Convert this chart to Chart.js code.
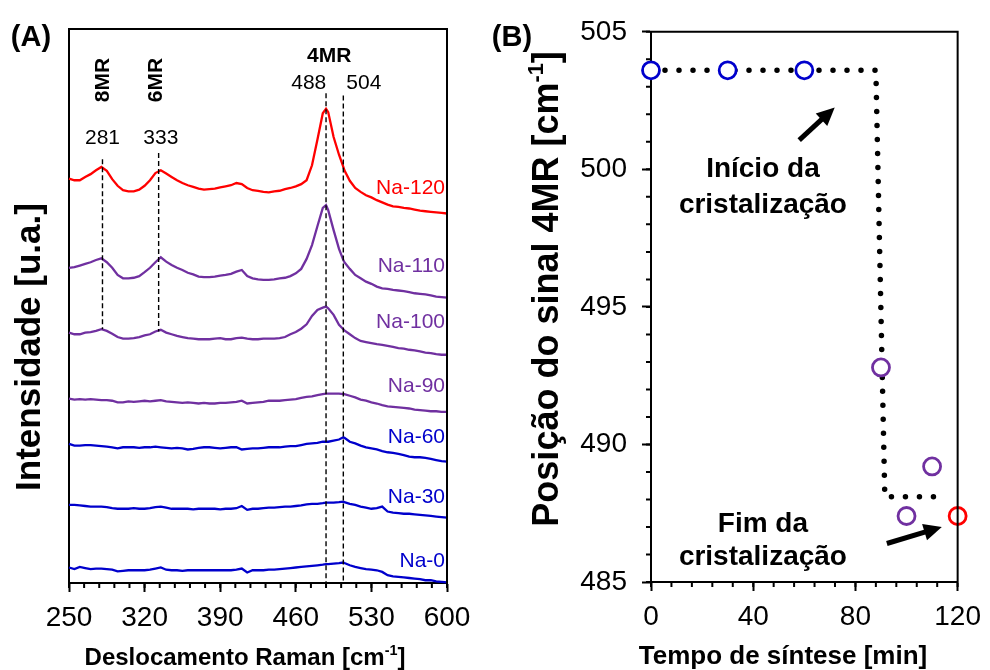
<!DOCTYPE html>
<html>
<head>
<meta charset="utf-8">
<script src="https://cdn.jsdelivr.net/npm/chart.js@4.4.1/dist/chart.umd.min.js"></script>
<style>
  body { margin: 0; background: #fff; }
  #quadro { position: relative; width: 990px; height: 670px; }
  canvas { position: absolute; top: 0; }
  #graficoA { left: 0; }
  #graficoB { left: 490px; }
</style>
</head>
<body>
<div id="quadro">
  <canvas id="graficoA" width="490" height="670" style="width:490px;height:670px"></canvas>
  <canvas id="graficoB" width="500" height="670" style="width:500px;height:670px"></canvas>
</div>
<script>
// deslocamento Raman (cm-1) comum a todos os espectros
var deslocamento = [250,255,260,265,270,275,280,285,290,295,300,305,310,315,320,325,330,335,340,345,
  350,355,360,365,370,375,380,385,390,395,400,405,410,415,420,425,430,435,440,445,
  450,455,460,465,470,475,480,485,488,490,495,500,504,505,510,515,520,525,530,535,
  540,545,550,555,560,565,570,575,580,585,590,595,600];

// intensidades (u.a., ja com o deslocamento vertical de cada amostra)
var na0 = [2.8,2.5,2.9,2.7,2.5,2.6,2.6,2.5,2.4,2.1, 2.2,2.3,2.3,2.3,2.3,2.4,2.6,2.8,2.4,2.3,
  2.3,2.2,2.3,2.3,2.3,2.3,2.3,2.3,2.3,2.3, 2.3,2.4,2.6,1.9,2.3,2.3,2.3,2.4,2.4,2.5,
  2.6,2.7,2.8,2.9,3.0,3.1,3.2,3.3, 3.4, 3.4,3.5,3.6, 3.7,
  3.6,3.2,2.9,2.7,2.5,2.4,2.3,2.0,1.4,1.2,1.1,1.0,0.9,0.8,0.7,0.5,0.5,0.3,0.2,0.1];
var na30 = [14.1,14.1,14.0,13.9,13.8,13.8,13.8,13.7,13.5,13.4, 13.4,13.4,13.5,13.4,13.4,13.5,13.7,13.8,13.6,13.4,
  13.4,13.4,13.4,13.3,13.4,13.4,13.4,13.4,13.3,13.4, 13.4,13.5,13.9,13.2,13.4,13.4,13.5,13.6,13.6,13.7,
  13.8,13.8,13.9,14.0,14.2,14.3,14.3,14.4, 14.5, 14.5,14.5,14.6, 14.7,
  14.6,14.3,14.1,13.8,13.6,13.4,13.5,13.8,12.9,12.7,12.6,12.5,12.5,12.4,12.3,12.2,12.1,12.0,11.9,11.8];
var na60 = [25.1,24.8,24.8,24.9,24.9,24.8,24.7,24.6,24.5,24.3, 24.5,24.5,24.5,24.4,24.5,24.5,24.6,24.5,24.4,24.3,
  24.4,24.3,24.1,24.2,24.4,24.5,24.5,24.4,24.3,24.4, 24.5,24.5,24.1,24.2,24.3,24.3,24.4,24.5,24.5,24.5,
  24.6,24.7,24.7,24.9,25.1,25.2,25.3,25.5, 25.5, 25.5,25.7,25.9, 26.3,
  26.2,25.5,25.2,24.8,24.5,24.3,24.1,23.8,23.6,23.5,23.3,23.1,22.8,22.7,22.7,22.6,22.4,22.2,22.0,21.9];
var na90 = [33.3,33.1,33.2,33.1,33.2,33.1,33.0,33.0,32.9,32.6, 32.6,32.8,32.7,32.8,32.9,32.8,32.9,33.0,32.8,32.7,
  32.6,32.5,32.6,32.5,32.4,32.5,32.4,32.4,32.5,32.5, 32.6,32.7,32.9,32.4,32.5,32.6,32.7,32.9,32.9,32.9,
  33.0,33.1,33.2,33.4,33.6,33.7,33.9,34.1, 34.2, 34.2,34.2,34.2, 34.1,
  34.1,33.8,33.5,33.1,32.9,32.6,32.4,32.1,31.9,31.8,31.7,31.6,31.5,31.3,31.2,31.1,31.0,31.0,30.9,30.9];
var na100 = [45.2,44.9,44.9,45.2,45.3,45.5,45.8,45.5,45.0,44.4, 44.1,44.1,44.2,44.4,44.7,44.9,45.4,45.7,45.2,44.9,
  44.6,44.4,44.2,44.1,44.0,44.0,44.0,44.1,44.2,44.0, 44.0,44.2,44.3,44.1,44.0,44.0,44.1,44.1,44.1,44.2,
  44.4,44.9,45.3,45.9,46.7,48.2,49.3,49.7, 49.9, 49.6,48.4,46.6, 45.8,
  45.6,44.9,44.2,43.7,43.5,43.3,43.1,43.0,42.8,42.6,42.4,42.3,42.1,42.0,41.8,41.6,41.5,41.3,41.2,41.2];
var na110 = [56.9,57.0,57.3,57.6,57.9,58.3,58.6,57.9,56.9,55.6, 55.0,55.0,55.1,55.4,56.1,56.9,57.9,58.8,58.0,57.4,
  56.9,56.5,56.0,55.7,55.3,55.2,55.2,55.3,55.5,55.6, 55.8,56.2,56.5,55.4,55.0,54.8,54.7,54.7,54.8,55.0,
  55.1,55.4,55.9,56.7,58.5,61.0,64.4,67.7, 68.2, 67.3,63.7,60.3, 58.3,
  57.9,56.7,55.6,55.0,54.4,54.0,53.5,53.2,53.1,52.9,52.8,52.7,52.5,52.3,52.2,52.1,51.9,51.7,51.6,51.5];
var na120 = [73.0,72.7,72.7,73.3,73.8,74.5,75.1,74.4,72.9,71.7, 70.9,70.7,70.7,71.0,71.7,72.7,74.0,74.5,73.9,73.3,
  72.7,72.2,71.8,71.5,71.2,71.0,71.1,71.2,71.4,71.6, 71.8,72.2,72.0,71.3,70.9,70.8,70.6,70.5,70.7,70.8,
  71.1,71.3,71.6,72.0,72.7,75.4,80.0,84.8, 85.6, 85.0,80.5,77.3, 75.1,
  74.5,72.6,71.3,70.6,70.0,69.6,69.1,68.7,68.3,68.0,67.9,67.7,67.6,67.4,67.2,67.1,67.0,66.9,66.8,66.7];

var amostras = ['Na-0', 'Na-30', 'Na-60', 'Na-90', 'Na-100', 'Na-110', 'Na-120'];

// linhas tracejadas das bandas (8MR, 6MR e 4MR)
var picos = [281, 333, 488, 504];
var picoTopo = [76.5, 77.6, 88.4, 88.0];
var picoBase = [45.8, 45.4, 0, 0];

var ticksRaman = [250, 320, 390, 460, 530, 600];

// posicao do sinal 4MR ao longo da sintese
var tempo = [0, 30, 60, 90, 100, 110, 120];
var posicao4MR = [503.6, 503.6, 503.6, 492.8, 487.4, 489.2, 487.4];
var guiaTempo = [0, 88, 91.5, 116];
var guiaPosicao = [503.6, 503.6, 488.1, 488.1];

var ticksTempo = [0, 40, 80, 120];
var ticksPosicao = [485, 490, 495, 500, 505];

var azul = '#0000cc', roxo = '#7030a0', vermelho = '#ff0000';
var FONTE = '"Liberation Sans", Arial, sans-serif';

function pares(xs, ys) {
    return xs.map(function (x, i) { return {x: x, y: ys[i]}; });
}

// texto com partes sobrescritas (prefixo ^)
function escreve(ctx, partes, x, y, tam, peso, cor, alinh, ang) {
    ctx.save();
    ctx.translate(x, y);
    if (ang) ctx.rotate(ang);
    ctx.fillStyle = cor;
    ctx.textBaseline = 'middle';
    ctx.textAlign = 'left';
    var fonte = function (s) { return peso + ' ' + s + 'px ' + FONTE; };
    var larg = [], total = 0;
    partes.forEach(function (p) {
        var sup = p.charAt(0) === '^';
        ctx.font = fonte(sup ? tam * 0.6 : tam);
        var w = ctx.measureText(sup ? p.slice(1) : p).width;
        larg.push(w); total += w;
    });
    var x0 = alinh === 'center' ? -total / 2 : (alinh === 'right' ? -total : 0);
    partes.forEach(function (p, i) {
        var sup = p.charAt(0) === '^';
        ctx.font = fonte(sup ? tam * 0.6 : tam);
        ctx.fillText(sup ? p.slice(1) : p, x0, sup ? -tam * 0.3 : 0);
        x0 += larg[i];
    });
    ctx.restore();
}

function seta(ctx, x1, y1, x2, y2) {
    var ang = Math.atan2(y2 - y1, x2 - x1), cab = 18;
    ctx.save();
    ctx.strokeStyle = '#000'; ctx.fillStyle = '#000'; ctx.lineWidth = 5;
    ctx.beginPath();
    ctx.moveTo(x1, y1);
    ctx.lineTo(x2 - Math.cos(ang) * cab * 0.8, y2 - Math.sin(ang) * cab * 0.8);
    ctx.stroke();
    ctx.translate(x2, y2); ctx.rotate(ang);
    ctx.beginPath();
    ctx.moveTo(0, 0); ctx.lineTo(-cab, -8.5); ctx.lineTo(-cab, 8.5); ctx.closePath();
    ctx.fill();
    ctx.restore();
}

function moldura(ctx, a) {
    ctx.save();
    ctx.strokeStyle = '#000'; ctx.lineWidth = 2;
    ctx.beginPath();
    ctx.moveTo(a.left, a.top); ctx.lineTo(a.right, a.top); ctx.lineTo(a.right, a.bottom);
    ctx.stroke();
    ctx.restore();
}

function ticksMenores(ctx, escala, ini, fim, passo, horizontal, pos) {
    ctx.save();
    ctx.strokeStyle = '#000'; ctx.lineWidth = 2;
    ctx.beginPath();
    for (var v = ini; v <= fim + 1e-6; v += passo) {
        var p = escala.getPixelForValue(v);
        if (horizontal) { ctx.moveTo(p, pos); ctx.lineTo(p, pos + 5); }
        else { ctx.moveTo(pos, p); ctx.lineTo(pos - 5, p); }
    }
    ctx.stroke();
    ctx.restore();
}

// ---------- (A) espectros Raman ----------
var anotacoesA = {
    id: 'anotacoesA',
    afterDraw: function (chart) {
        var ctx = chart.ctx, a = chart.chartArea, sx = chart.scales.x, sy = chart.scales.y;
        moldura(ctx, a);
        ticksMenores(ctx, sx, 250, 600, 14, true, a.bottom);

        escreve(ctx, ['(A)'], 31, 38, 29, 'bold', '#000', 'center');
        escreve(ctx, ['8MR'], sx.getPixelForValue(281.5), sy.getPixelForValue(90.8), 21, 'bold', '#000', 'center', -Math.PI / 2);
        escreve(ctx, ['6MR'], sx.getPixelForValue(331), sy.getPixelForValue(90.8), 21, 'bold', '#000', 'center', -Math.PI / 2);
        escreve(ctx, ['281'], sx.getPixelForValue(281), sy.getPixelForValue(80.3), 21, 'normal', '#000', 'center');
        escreve(ctx, ['333'], sx.getPixelForValue(335), sy.getPixelForValue(80.3), 21, 'normal', '#000', 'center');
        escreve(ctx, ['4MR'], sx.getPixelForValue(491), sy.getPixelForValue(95.1), 21, 'bold', '#000', 'center');
        escreve(ctx, ['488'], sx.getPixelForValue(472), sy.getPixelForValue(90.3), 21, 'normal', '#000', 'center');
        escreve(ctx, ['504'], sx.getPixelForValue(523), sy.getPixelForValue(90.3), 21, 'normal', '#000', 'center');

        var posRotulo = [4.0, 15.5, 26.4, 35.5, 47.1, 57.1, 71.3];
        var cores = [azul, azul, azul, roxo, roxo, roxo, vermelho];
        amostras.forEach(function (nome, i) {
            escreve(ctx, [nome], a.right - 2, sy.getPixelForValue(posRotulo[i]), 21, 'normal', cores[i], 'right');
        });

        escreve(ctx, ['Intensidade [u.a.]'], 30, 347, 35, 'bold', '#000', 'center', -Math.PI / 2);
        escreve(ctx, ['Deslocamento Raman [cm', '^-1', ']'], 245, 658, 24, 'bold', '#000', 'center');
    }
};

var espectros = [na0, na30, na60, na90, na100, na110, na120];
var coresEspectro = [azul, azul, azul, roxo, roxo, roxo, vermelho];

var conjuntosA = picos.map(function (p, i) {
    return {
        label: 'pico ' + p,
        data: pares([p, p], [picoTopo[i], picoBase[i]]),
        borderColor: '#000', borderWidth: 1.4, borderDash: [5, 3],
        pointRadius: 0, fill: false
    };
});
espectros.forEach(function (serie, i) {
    conjuntosA.push({
        label: amostras[i],
        data: pares(deslocamento, serie),
        borderColor: coresEspectro[i], borderWidth: 2.3,
        pointRadius: 0, fill: false, tension: 0, clip: false
    });
});

var graficoA = new Chart(document.getElementById('graficoA').getContext('2d'), {
    type: 'line',
    data: { datasets: conjuntosA },
    options: {
        responsive: false, animation: false,
        layout: { padding: { left: 69, top: 29, right: 43, bottom: 37 } },
        plugins: { legend: { display: false }, tooltip: { enabled: false } },
        scales: {
            x: {
                type: 'linear', min: 250, max: 600,
                afterBuildTicks: function (eixo) { eixo.ticks = ticksRaman.map(function (v) { return {value: v}; }); },
                afterFit: function (eixo) { eixo.height = 50; },
                ticks: { font: { family: FONTE, size: 28 }, color: '#000', padding: 9, maxRotation: 0, autoSkip: false },
                grid: { drawOnChartArea: false, tickLength: 9, tickWidth: 2, tickColor: '#000' },
                border: { color: '#000', width: 2 }
            },
            y: {
                min: 0, max: 100,
                afterFit: function (eixo) { eixo.width = 0; },
                ticks: { display: false },
                grid: { display: false, drawTicks: false },
                border: { display: true, color: '#000', width: 2 }
            }
        }
    },
    plugins: [anotacoesA]
});

// ---------- (B) posicao do sinal 4MR ----------
var anotacoesB = {
    id: 'anotacoesB',
    afterDraw: function (chart) {
        var ctx = chart.ctx, a = chart.chartArea, sx = chart.scales.x, sy = chart.scales.y;
        moldura(ctx, a);
        ticksMenores(ctx, sx, 0, 120, 8, true, a.bottom);
        ticksMenores(ctx, sy, 485, 505, 1, false, a.left);

        escreve(ctx, ['(B)'], 22, 38, 29, 'bold', '#000', 'center');

        escreve(ctx, ['Início da'], sx.getPixelForValue(43.8), sy.getPixelForValue(500.0), 28, 'bold', '#000', 'center');
        escreve(ctx, ['cristalização'], sx.getPixelForValue(43.8), sy.getPixelForValue(498.7), 28, 'bold', '#000', 'center');
        escreve(ctx, ['Fim da'], sx.getPixelForValue(43.8), sy.getPixelForValue(487.1), 28, 'bold', '#000', 'center');
        escreve(ctx, ['cristalização'], sx.getPixelForValue(43.8), sy.getPixelForValue(485.9), 28, 'bold', '#000', 'center');

        seta(ctx, sx.getPixelForValue(58), sy.getPixelForValue(501.06), sx.getPixelForValue(71.9), sy.getPixelForValue(502.25));
        seta(ctx, sx.getPixelForValue(92.3), sy.getPixelForValue(486.4), sx.getPixelForValue(113.8), sy.getPixelForValue(487.0));

        escreve(ctx, ['Posição do sinal 4MR [cm', '^-1', ']'], 58, 289, 36, 'bold', '#000', 'center', -Math.PI / 2);
        escreve(ctx, ['Tempo de síntese [min]'], 293, 657, 26, 'bold', '#000', 'center');
    }
};

var coresPonto = [azul, azul, azul, roxo, roxo, roxo, vermelho];

var graficoB = new Chart(document.getElementById('graficoB').getContext('2d'), {
    type: 'line',
    data: {
        datasets: [{
            label: 'Posição 4MR',
            data: pares(tempo, posicao4MR),
            showLine: false,
            pointStyle: 'circle', pointRadius: 8.5, pointBorderWidth: 2.8,
            pointBorderColor: coresPonto, pointBackgroundColor: '#fff',
            clip: false
        }, {
            label: 'guia',
            data: pares(guiaTempo, guiaPosicao),
            borderColor: '#000', borderWidth: 5.5, borderDash: [0, 14], borderCapStyle: 'round',
            pointRadius: 0, fill: false, tension: 0, clip: false
        }]
    },
    options: {
        responsive: false, animation: false,
        layout: { padding: { left: 61, top: 29, right: 27, bottom: 38 } },
        plugins: { legend: { display: false }, tooltip: { enabled: false } },
        scales: {
            x: {
                type: 'linear', min: 0, max: 120,
                afterBuildTicks: function (eixo) { eixo.ticks = ticksTempo.map(function (v) { return {value: v}; }); },
                afterFit: function (eixo) { eixo.height = 50; },
                ticks: { font: { family: FONTE, size: 28 }, color: '#000', padding: 9, maxRotation: 0, autoSkip: false },
                grid: { drawOnChartArea: false, tickLength: 9, tickWidth: 2, tickColor: '#000' },
                border: { color: '#000', width: 2 }
            },
            y: {
                min: 485, max: 505,
                afterBuildTicks: function (eixo) { eixo.ticks = ticksPosicao.map(function (v) { return {value: v}; }); },
                afterFit: function (eixo) { eixo.width = 100; },
                ticks: { font: { family: FONTE, size: 28 }, color: '#000', padding: 15, autoSkip: false },
                grid: { drawOnChartArea: false, tickLength: 9, tickWidth: 2, tickColor: '#000' },
                border: { color: '#000', width: 2 }
            }
        }
    },
    plugins: [anotacoesB]
});
</script>
</body>
</html>
